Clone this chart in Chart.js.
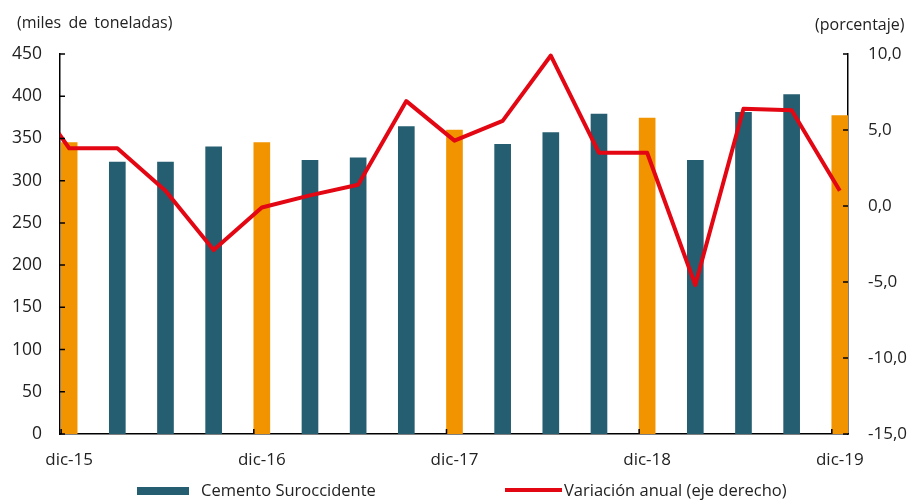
<!DOCTYPE html>
<html>
<head>
<meta charset="utf-8">
<script src="https://cdn.jsdelivr.net/npm/chart.js@4"></script>
<style>
  html, body { margin: 0; padding: 0; background: #fff; }
  #wrap { position: relative; width: 914px; height: 502px; font-family: "Open Sans", sans-serif; color: #222; }
  canvas { position: absolute; left: 0; top: 0; }
  .note { position: absolute; font-size: 16px; line-height: 20px; white-space: nowrap; }
  .item { position: absolute; top: 480px; height: 20px; font-size: 16.5px; line-height: 20px; white-space: nowrap; }
  .swatch { position: absolute; }
</style>
</head>
<body>
<div id="wrap">
  <canvas id="chart" width="914" height="502"></canvas>
  <div class="note" style="left:17px; top:12px; word-spacing:3px;">(miles de toneladas)</div>
  <div class="note" style="left:815px; top:14px;">(porcentaje)</div>
  <div class="item" style="left:137px;">
    <span class="swatch" style="left:0; top:7px; width:52px; height:8px; background:#245e70;"></span>
    <span style="position:absolute; left:64px;">Cemento Suroccidente</span>
  </div>
  <div class="item" style="left:505px;">
    <span class="swatch" style="left:0; top:8px; width:57px; height:4px; background:#e30613;"></span>
    <span style="position:absolute; left:59px;">Variación anual (eje derecho)</span>
  </div>
</div>
<script>
// quarters, sep-15 only carries the start of the red line
const quarters = ["sep-15", "dic-15", "mar-16", "jun-16", "sep-16", "dic-16", "mar-17", "jun-17", "sep-17",
  "dic-17", "mar-18", "jun-18", "sep-18", "dic-18", "mar-19", "jun-19", "sep-19", "dic-19"];
const cement = [null, 345, 322, 322, 340, 345, 324, 327, 364, 360, 343, 357, 379, 374, 324, 381, 402, 377];
const variation = [8.3, 3.8, 3.8, 1.0, -2.9, -0.1, 0.7, 1.4, 6.9, 4.3, 5.6, 9.9, 3.5, 3.5, -5.2, 6.4, 6.3, 1.0];
const leftTicks = [0, 50, 100, 150, 200, 250, 300, 350, 400, 450];
const rightTicks = [-15, -10, -5, 0, 5, 10];

const teal = "#245e70";
const orange = "#f29400";
const red = "#e30613";
const barWidth = 16;

const xPos = (i) => i - 1;
const labelIdx = quarters.map((q, i) => (q.startsWith("dic") ? xPos(i) : null)).filter((v) => v !== null);

Chart.defaults.font.family = "'Open Sans', sans-serif";
Chart.defaults.font.size = 17;
Chart.defaults.color = "#222";

// inward tick marks on all three axes
const tickMarks = {
  id: "tickMarks",
  afterDraw(chart) {
    const { ctx, scales } = chart;
    const { x, y, y1 } = scales;
    ctx.save();
    ctx.strokeStyle = "#000";
    ctx.lineWidth = 1.5;
    ctx.beginPath();
    y.ticks.forEach((t) => {
      const py = y.getPixelForValue(t.value);
      ctx.moveTo(y.right, py);
      ctx.lineTo(y.right + 5, py);
    });
    y1.ticks.forEach((t) => {
      const py = y1.getPixelForValue(t.value);
      ctx.moveTo(y1.left, py);
      ctx.lineTo(y1.left - 5, py);
    });
    labelIdx.forEach((v) => {
      const px = x.getPixelForValue(v) - barWidth / 2;
      ctx.moveTo(px, x.top);
      ctx.lineTo(px, x.top - 5);
    });
    ctx.stroke();
    ctx.restore();
  }
};

new Chart(document.getElementById("chart"), {
  type: "bar",
  data: {
    datasets: [
      {
        type: "line",
        label: "Variación anual (eje derecho)",
        data: variation.map((v, i) => ({ x: xPos(i), y: v })),
        yAxisID: "y1",
        borderColor: red,
        backgroundColor: red,
        borderWidth: 4,
        pointRadius: 0,
        tension: 0,
        borderJoinStyle: "round",
        clip: { left: 0, top: 6, right: 6, bottom: 6 },
        order: 0
      },
      {
        label: "Cemento Suroccidente",
        data: cement.map((v, i) => ({ x: xPos(i), y: v })),
        yAxisID: "y",
        backgroundColor: quarters.map((q) => (q.startsWith("dic") ? orange : teal)),
        borderWidth: 0,
        barThickness: barWidth,
        order: 1
      }
    ]
  },
  options: {
    responsive: false,
    animation: false,
    layout: { padding: { top: 54, bottom: 0, left: 0, right: 0 } },
    plugins: {
      legend: { display: false },
      tooltip: { enabled: false }
    },
    scales: {
      x: {
        type: "linear",
        offset: false,
        min: -0.19,
        max: 16.17,
        grid: { display: false, drawTicks: false },
        border: { display: true, color: "#000", width: 1.5 },
        afterBuildTicks: (axis) => {
          axis.ticks = labelIdx.map((v) => ({ value: v }));
        },
        afterFit: (axis) => { axis.height = 68; },
        ticks: {
          autoSkip: false,
          maxRotation: 0,
          padding: 16,
          callback: (value) => quarters[value + 1]
        }
      },
      y: {
        position: "left",
        min: 0,
        max: 450,
        grid: { display: false, drawTicks: false },
        border: { display: true, color: "#000", width: 1.5 },
        afterBuildTicks: (axis) => {
          axis.ticks = leftTicks.map((v) => ({ value: v }));
        },
        afterFit: (axis) => { axis.width = 60; },
        ticks: { padding: 18, font: { size: 17.5 } }
      },
      y1: {
        position: "right",
        min: -15,
        max: 10,
        grid: { display: false, drawTicks: false },
        border: { display: true, color: "#000", width: 1.5 },
        afterBuildTicks: (axis) => {
          axis.ticks = rightTicks.map((v) => ({ value: v }));
        },
        afterFit: (axis) => { axis.width = 66; },
        ticks: {
          padding: 20,
          callback: (value) => value.toFixed(1).replace(".", ",")
        }
      }
    }
  },
  plugins: [tickMarks]
});
</script>
</body>
</html>
